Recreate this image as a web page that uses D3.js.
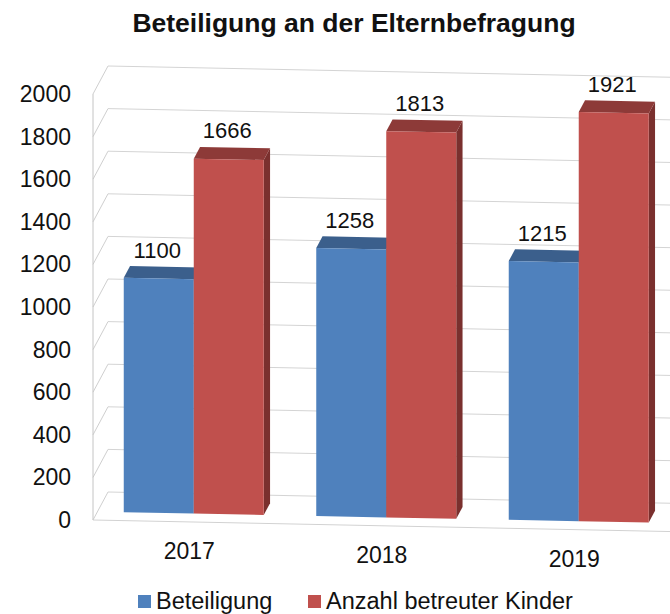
<!DOCTYPE html>
<html>
<head>
<meta charset="utf-8">
<script src="https://cdn.jsdelivr.net/npm/d3@7"></script>
<style>
	body { margin: 0; background: #fff; }
	svg { display: block; font-family: "Liberation Sans", Arial, sans-serif; }
</style>
</head>
<body>
<div id="chart"></div>
<script>
var years = ["2017", "2018", "2019"];
var seriesNames = ["Beteiligung", "Anzahl betreuter Kinder"];
var beteiligung = [1100, 1258, 1215];
var kinder = [1666, 1813, 1921];
var yTicks = [0, 200, 400, 600, 800, 1000, 1200, 1400, 1600, 1800, 2000];

var w = 670, h = 614;

// colours per series: front, top, side
var colors = [
	{front: "#4f81bd", top: "#3b5f8c", side: "#344f73"},
	{front: "#c0504d", top: "#8d3a38", side: "#7a302e"}
];

// simple oblique "3d" projection: u along categories, v value, d depth (0 front .. 1 back)
var origin = {x: 93, y: 520};
var slope = 0.02;
var depth = {x: 15, y: -28};

var x = d3.scaleBand().domain(years).range([0, 577.5]).paddingInner(0.2727).paddingOuter(0.1364);
var xs = d3.scaleBand().domain(seriesNames).range([0, x.bandwidth()]);
var y = d3.scaleLinear().domain([0, 2000]).range([0, 2000 * 0.213]);

function proj (u, v, d) {
	return [origin.x + u + d * depth.x, origin.y + u * slope - y(v) + d * depth.y];
}
function poly (pts) {
	return pts.map(function (p) { return p.join(","); }).join(" ");
}

var svg = d3.select("#chart").append("svg")
	.attr("width", w)
	.attr("height", h);

var uEnd = x.range()[1];

// walls and gridlines
var grid = svg.append("g").attr("fill", "none");

grid.selectAll(".back-line")
	.data(yTicks)
	.enter()
	.append("line")
	.attr("stroke", "#d4d4d4")
	.attr("x1", function (d) { return proj(0, d, 1)[0]; })
	.attr("y1", function (d) { return proj(0, d, 1)[1]; })
	.attr("x2", function (d) { return proj(uEnd, d, 1)[0]; })
	.attr("y2", function (d) { return proj(uEnd, d, 1)[1]; });

grid.selectAll(".side-line")
	.data(yTicks)
	.enter()
	.append("line")
	.attr("stroke", "#cfcfcf")
	.attr("x1", function (d) { return proj(0, d, 0)[0]; })
	.attr("y1", function (d) { return proj(0, d, 0)[1]; })
	.attr("x2", function (d) { return proj(0, d, 1)[0]; })
	.attr("y2", function (d) { return proj(0, d, 1)[1]; });

// front vertical axis edge
grid.append("line")
	.attr("stroke", "#c4c4c4")
	.attr("x1", proj(0, 0, 0)[0]).attr("y1", proj(0, 0, 0)[1])
	.attr("x2", proj(0, 2000, 0)[0]).attr("y2", proj(0, 2000, 0)[1]);

// floor front edge
grid.append("line")
	.attr("stroke", "#d2d2d2")
	.attr("x1", proj(0, 0, 0)[0]).attr("y1", proj(0, 0, 0)[1])
	.attr("x2", proj(uEnd, 0, 0)[0]).attr("y2", proj(uEnd, 0, 0)[1]);

// bars
var barFront = 0.3, barBack = 0.72;
var bars = [];
years.forEach(function (yr, i) {
	[beteiligung[i], kinder[i]].forEach(function (v, s) {
		bars.push({year: yr, series: s, value: v, u0: x(yr) + xs(seriesNames[s]), u1: x(yr) + xs(seriesNames[s]) + xs.bandwidth()});
	});
});

var barG = svg.append("g").selectAll(".bar")
	.data(bars)
	.enter()
	.append("g")
	.attr("class", "bar");

barG.append("polygon")
	.attr("fill", function (d) { return colors[d.series].side; })
	.attr("points", function (d) {
		return poly([proj(d.u1, 0, barFront), proj(d.u1, 0, barBack), proj(d.u1, d.value, barBack), proj(d.u1, d.value, barFront)]);
	});

barG.append("polygon")
	.attr("fill", function (d) { return colors[d.series].top; })
	.attr("points", function (d) {
		return poly([proj(d.u0, d.value, barFront), proj(d.u0, d.value, barBack), proj(d.u1, d.value, barBack), proj(d.u1, d.value, barFront)]);
	});

barG.append("polygon")
	.attr("fill", function (d) { return colors[d.series].front; })
	.attr("points", function (d) {
		return poly([proj(d.u0, 0, barFront), proj(d.u0, d.value, barFront), proj(d.u1, d.value, barFront), proj(d.u1, 0, barFront)]);
	});

// value labels
svg.append("g").selectAll("text")
	.data(bars)
	.enter()
	.append("text")
	.attr("text-anchor", "middle")
	.attr("font-size", 22)
	.attr("fill", "#111")
	.attr("x", function (d) { return proj((d.u0 + d.u1) / 2, d.value, 0.2)[0]; })
	.attr("y", function (d) { return proj((d.u0 + d.u1) / 2, d.value, barFront)[1] - 21; })
	.text(function (d) { return d.value; });

// y axis labels
svg.append("g").selectAll("text")
	.data(yTicks)
	.enter()
	.append("text")
	.attr("text-anchor", "end")
	.attr("font-size", 23)
	.attr("fill", "#111")
	.attr("x", 71)
	.attr("y", function (d) { return proj(0, d, 0)[1] + 8; })
	.text(function (d) { return d; });

// category labels
svg.append("g").selectAll("text")
	.data(years)
	.enter()
	.append("text")
	.attr("text-anchor", "middle")
	.attr("font-size", 23)
	.attr("fill", "#111")
	.attr("x", function (d) { return proj(x(d) + x.bandwidth() / 2, 0, 0)[0]; })
	.attr("y", function (d) { return proj(x(d) + x.bandwidth() / 2, 0, 0)[1] + 37; })
	.text(function (d) { return d; });

// title
svg.append("text")
	.attr("x", 354)
	.attr("y", 32)
	.attr("text-anchor", "middle")
	.attr("font-size", 26.5)
	.attr("font-weight", "bold")
	.attr("fill", "#111")
	.text("Beteiligung an der Elternbefragung");

// legend
var legendX = [138, 308];
var legend = svg.append("g").selectAll("g")
	.data(seriesNames)
	.enter()
	.append("g")
	.attr("transform", function (d, i) { return "translate(" + legendX[i] + ",595)"; });

legend.append("rect")
	.attr("width", 13)
	.attr("height", 13)
	.attr("fill", function (d, i) { return colors[i].front; });

legend.append("text")
	.attr("x", 18)
	.attr("y", 14)
	.attr("font-size", 23.5)
	.attr("fill", "#111")
	.text(function (d) { return d; });
</script>
</body>
</html>
